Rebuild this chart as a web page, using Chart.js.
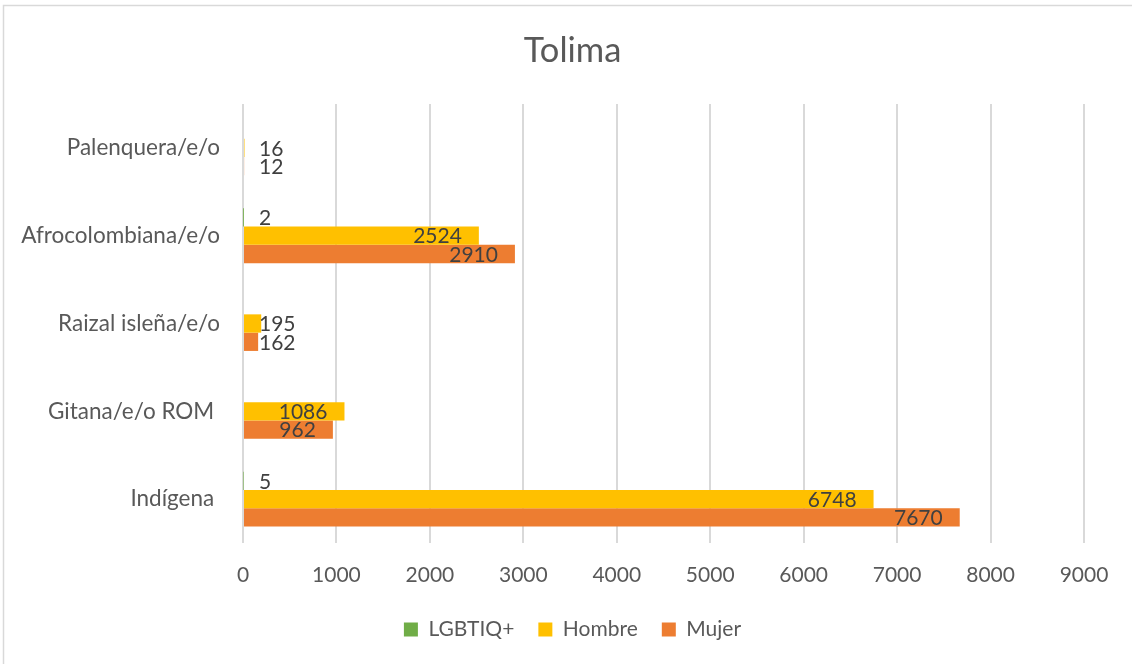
<!DOCTYPE html>
<html lang="es">
<head>
    <meta charset="UTF-8">
    <title>Tolima</title>
    <style>
        html, body {
            margin: 0;
            padding: 0;
            background: #ffffff;
        }
        #chartContainer {
            width: 1132px;
            height: 664px;
        }
    </style>
    <script src="https://cdn.jsdelivr.net/npm/chart.js"></script>
</head>
<body>
    <div id="chartContainer">
        <canvas id="tolimaChart" width="1132" height="664"></canvas>
    </div>

    <script>
        const categories = ['Palenquera/e/o', 'Afrocolombiana/e/o', 'Raizal isleña/e/o', 'Gitana/e/o ROM ', 'Indígena '];
        const lgbtiq = [null, 2, null, null, 5];
        const hombre = [16, 2524, 195, 1086, 6748];
        const mujer = [12, 2910, 162, 962, 7670];
        const xTicks = [0, 1000, 2000, 3000, 4000, 5000, 6000, 7000, 8000, 9000];

        const fontFamily = 'Lato, "Liberation Sans", sans-serif';

        // thin frame at top and left, like the exported picture
        const framePlugin = {
            id: 'frame',
            beforeDraw(chart) {
                const ctx = chart.ctx;
                ctx.save();
                ctx.fillStyle = '#ffffff';
                ctx.fillRect(0, 0, chart.width, chart.height);
                ctx.strokeStyle = '#d9d9d9';
                ctx.lineWidth = 1.5;
                ctx.strokeRect(3.5, 5.5, chart.width + 10, chart.height + 10);
                ctx.restore();
            }
        };

        // let the long category names use the space left of the y axis box
        const unclipLabels = {
            id: 'unclipLabels',
            afterLayout(chart) {
                const y = chart.scales.y;
                y.left = 0;
                y.width = y.right;
            }
        };

        // value labels: inside the end of the bar, pushed out when the bar is short
        const valueLabels = {
            id: 'valueLabels',
            afterDatasetsDraw(chart) {
                const ctx = chart.ctx;
                const minLeft = chart.scales.x.getPixelForValue(0) + 16;
                ctx.save();
                ctx.font = '21px ' + fontFamily;
                ctx.fillStyle = '#404040';
                ctx.textBaseline = 'middle';
                ctx.textAlign = 'left';
                chart.data.datasets.forEach((ds, i) => {
                    const meta = chart.getDatasetMeta(i);
                    meta.data.forEach((bar, j) => {
                        const v = ds.data[j];
                        if (v === null || v === undefined) return;
                        const text = String(v);
                        const w = ctx.measureText(text).width;
                        let left = bar.x - 17 - w;
                        if (left < minLeft) left = minLeft;
                        ctx.fillText(text, left, bar.y + 1);
                    });
                });
                ctx.restore();
            }
        };

        const ctx = document.getElementById('tolimaChart').getContext('2d');
        const chart = new Chart(ctx, {
            type: 'bar',
            data: {
                labels: categories,
                datasets: [
                    { label: 'LGBTIQ+', data: lgbtiq, backgroundColor: '#70ad47' },
                    { label: 'Hombre', data: hombre, backgroundColor: '#ffc000' },
                    { label: 'Mujer', data: mujer, backgroundColor: '#ed7d31' }
                ]
            },
            options: {
                indexAxis: 'y',
                responsive: false,
                animation: false,
                devicePixelRatio: 1,
                layout: {
                    padding: { left: 61, right: 48, top: 0, bottom: 14 }
                },
                datasets: {
                    bar: {
                        categoryPercentage: 0.625,
                        barPercentage: 1,
                        borderWidth: 0
                    }
                },
                scales: {
                    x: {
                        min: 0,
                        max: 9000,
                        afterBuildTicks(scale) {
                            scale.ticks = xTicks.map(v => ({ value: v }));
                        },
                        afterFit(scale) {
                            scale.height = 52;
                        },
                        grid: {
                            color: '#d9d9d9',
                            lineWidth: 2,
                            drawTicks: false
                        },
                        border: { display: false },
                        ticks: {
                            padding: 19.4,
                            color: '#595959',
                            font: { family: fontFamily, size: 21 },
                            maxRotation: 0,
                            callback: (value) => String(value)
                        }
                    },
                    y: {
                        afterFit(scale) {
                            scale.width = 182;
                        },
                        grid: { display: false, drawTicks: false },
                        border: { display: false },
                        ticks: {
                            padding: 23,
                            color: '#595959',
                            font: { family: fontFamily, size: 22.5 }
                        }
                    }
                },
                plugins: {
                    title: {
                        display: true,
                        text: 'Tolima',
                        color: '#595959',
                        font: { family: fontFamily, size: 34.5, weight: 'normal', lineHeight: 1.2 },
                        padding: { top: 30, bottom: 32.6 }
                    },
                    legend: {
                        position: 'bottom',
                        labels: {
                            boxWidth: 14,
                            boxHeight: 14,
                            padding: 24,
                            color: '#595959',
                            font: { family: fontFamily, size: 21 }
                        }
                    },
                    tooltip: { enabled: false }
                }
            },
            plugins: [framePlugin, unclipLabels, valueLabels]
        });
    </script>
</body>
</html>
